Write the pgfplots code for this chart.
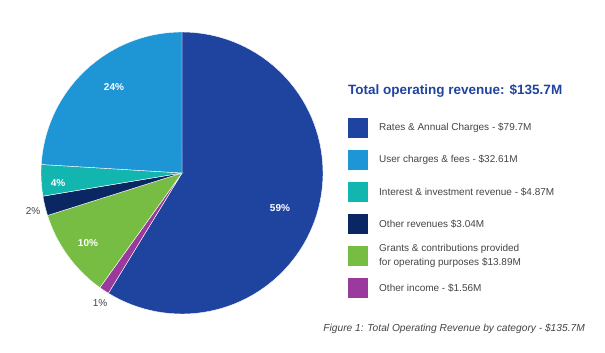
\documentclass[border=0pt]{standalone}
\usepackage{pgfplots}
\pgfplotsset{compat=1.18}
\usepackage{fontspec}
\setmainfont{Liberation Sans}
\definecolor{cRates}{HTML}{1F44A0}
\definecolor{cUser}{HTML}{1E95D5}
\definecolor{cInt}{HTML}{13B6AE}
\definecolor{cOther}{HTML}{0B2763}
\definecolor{cGrant}{HTML}{77BD43}
\definecolor{cInc}{HTML}{9A3A9C}
\definecolor{cTitle}{HTML}{1F44A0}
\definecolor{cText}{HTML}{444444}
\tikzset{legtext/.style={anchor=west,inner sep=0pt,text=cText,font=\fontsize{10}{14}\selectfont,align=left}}
\pgfplotsset{sector/.style={draw=white,line width=0.4pt,samples=80,variable=\t}}
% values in $M
\def\vRates{79.7}\def\vUser{32.61}\def\vInt{4.87}\def\vOther{3.04}\def\vGrant{13.89}\def\vInc{1.56}
\pgfmathsetmacro\tot{\vRates+\vUser+\vInt+\vOther+\vGrant+\vInc}
\pgfmathsetmacro\aA{90}
\pgfmathsetmacro\aB{\aA-(\vRates/\tot)*360}
\pgfmathsetmacro\aC{\aB-(\vInc/\tot)*360}
\pgfmathsetmacro\aD{\aC-(\vGrant/\tot)*360}
\pgfmathsetmacro\aE{\aD-(\vOther/\tot)*360}
\pgfmathsetmacro\aF{\aE-(\vInt/\tot)*360}
\pgfmathsetmacro\aG{\aF-(\vUser/\tot)*360}
\begin{document}
\begin{tikzpicture}
\begin{axis}[width=605pt,height=353pt,scale only axis,
  xmin=0,xmax=605,ymin=0,ymax=353,y dir=reverse,hide axis,clip=false]
\path (rel axis cs:0,0) rectangle (rel axis cs:1,1);
\addplot[sector,fill=cRates,domain=\aB:\aA] ({182+141*cos(\t)},{173-141*sin(\t)}) -- (axis cs:182,173) -- cycle;
\addplot[sector,fill=cInc,domain=\aC:\aB] ({182+141*cos(\t)},{173-141*sin(\t)}) -- (axis cs:182,173) -- cycle;
\addplot[sector,fill=cGrant,domain=\aD:\aC] ({182+141*cos(\t)},{173-141*sin(\t)}) -- (axis cs:182,173) -- cycle;
\addplot[sector,fill=cOther,domain=\aE:\aD] ({182+141*cos(\t)},{173-141*sin(\t)}) -- (axis cs:182,173) -- cycle;
\addplot[sector,fill=cInt,domain=\aF:\aE] ({182+141*cos(\t)},{173-141*sin(\t)}) -- (axis cs:182,173) -- cycle;
\addplot[sector,fill=cUser,domain=\aG:\aF] ({182+141*cos(\t)},{173-141*sin(\t)}) -- (axis cs:182,173) -- cycle;
% slice labels
\node[text=white,font=\bfseries\fontsize{10}{11}\selectfont] at (axis cs:280,208) {59\%};
\node[text=white,font=\bfseries\fontsize{10}{11}\selectfont] at (axis cs:114,87) {24\%};
\node[text=white,font=\bfseries\fontsize{10}{11}\selectfont] at (axis cs:58,183) {4\%};
\node[text=white,font=\bfseries\fontsize{10}{11}\selectfont] at (axis cs:88,243) {10\%};
\node[text=cText,font=\fontsize{10}{11}\selectfont] at (axis cs:33,211) {2\%};
\node[text=cText,font=\fontsize{10}{11}\selectfont] at (axis cs:100,303) {1\%};
% legend
\node[anchor=west,inner sep=0pt,text=cTitle,font=\bfseries\fontsize{13.5}{15}\selectfont] at (axis cs:348,91) {Total operating revenue: \$135.7M};
\fill[cRates] (axis cs:348,118) rectangle (axis cs:368,138);
\fill[cUser] (axis cs:348,150) rectangle (axis cs:368,170);
\fill[cInt] (axis cs:348,182) rectangle (axis cs:368,202);
\fill[cOther] (axis cs:348,214) rectangle (axis cs:368,234);
\fill[cGrant] (axis cs:348,246) rectangle (axis cs:368,266);
\fill[cInc] (axis cs:348,278) rectangle (axis cs:368,298);
\node[legtext] at (axis cs:379,128) {Rates \& Annual Charges - \$79.7M};
\node[legtext] at (axis cs:379,160) {User charges \& fees - \$32.61M};
\node[legtext] at (axis cs:379,192) {Interest \& investment revenue - \$4.87M};
\node[legtext] at (axis cs:379,224) {Other revenues \$3.04M};
\node[legtext] at (axis cs:379,256) {Grants \& contributions provided\\for operating purposes \$13.89M};
\node[legtext] at (axis cs:379,288) {Other income - \$1.56M};
\node[anchor=east,inner sep=0pt,text=cText,font=\itshape\fontsize{10.2}{11}\selectfont] at (axis cs:585,329) {Figure 1: Total Operating Revenue by category - \$135.7M};
\end{axis}
\end{tikzpicture}
\end{document}
